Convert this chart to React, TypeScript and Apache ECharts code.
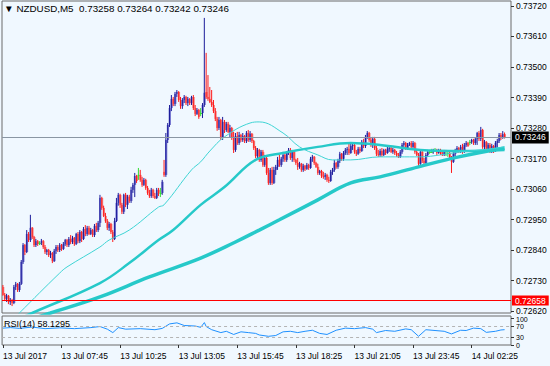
import React, { useEffect, useRef } from 'react';
import * as echarts from 'echarts';

// ---- data (prices in points, 1 point = 0.00001) ----
const symbolName = 'NZDUSD,M5';

const opens = [
72707,72678,72664,72675,72653,72660,72649,72707,72718,72696,72718,72797,72858,72833,72898,72876,72920,72887,72858,72872,
72866,72866,72872,72851,72833,72840,72822,72829,72800,72837,72851,72840,72858,72844,72862,72876,72858,72880,72869,72884,
72862,72898,72872,72905,72880,72916,72898,72920,72898,72912,72894,72927,72912,72938,73028,72992,72963,72945,72920,72934,
72905,72880,72945,73010,73039,73003,72978,73039,73003,73032,73017,73057,73075,73107,73111,73111,73093,73075,73093,73064,
73046,73035,73057,73035,73028,73057,73046,73046,73122,73111,73237,73291,73352,73385,73367,73403,73410,73381,73359,73381,
73392,73370,73385,73370,73392,73352,73331,73345,73334,73334,73363,73410,73392,73385,73374,73363,73341,73313,73280,73309,
73244,73302,73273,73295,73266,73280,73244,73201,73251,73226,73255,73237,73251,73233,73262,73237,73259,73233,73208,73179,
73201,73165,73194,73147,73172,73118,73082,73129,73082,73129,73140,73165,73147,73169,73183,73165,73190,73201,73172,73194,
73165,73154,73140,73151,73129,73144,73133,73147,73136,73169,73176,73154,73140,73118,73125,73107,73104,73111,73093,73089,
73122,73129,73154,73140,73162,73187,73169,73190,73201,73205,73190,73215,73219,73194,73187,73205,73197,73230,73215,73244,
73262,73237,73219,73241,73208,73187,73183,73197,73183,73201,73190,73205,73208,73194,73201,73190,73183,73176,73194,73219,
73226,73208,73219,73226,73212,73226,73194,73183,73151,73194,73162,73154,73183,73194,73194,73194,73201,73201,73190,73201,
73187,73183,73197,73190,73190,73172,73158,73187,73197,73208,73197,73212,73194,73219,73226,73230,73230,73237,73226,73241,
73262,73241,73273,73212,73230,73201,73219,73197,73215,73201,73226,73233,73255,73244,73258];

const highs = [
72714,72685,72682,72678,72667,72664,72714,72725,72721,72725,72804,72865,72862,72912,72905,72967,72923,72891,72880,72876,
72872,72880,72876,72858,72844,72844,72837,72833,72844,72858,72858,72865,72862,72869,72880,72880,72887,72894,72891,72887,
72902,72905,72912,72909,72923,72930,72927,72927,72920,72916,72934,72938,72945,73039,73032,73000,72974,72952,72941,72938,
72912,72956,73028,73046,73043,73010,73043,73046,73039,73039,73068,73082,73118,73111,73136,73129,73104,73100,73097,73071,
73057,73064,73061,73046,73064,73064,73064,73093,73165,73262,73298,73363,73399,73392,73410,73417,73413,73392,73388,73399,
73396,73392,73388,73396,73399,73363,73352,73349,73352,73370,73677,73551,73471,73428,73417,73381,73352,73320,73320,73313,
73320,73309,73302,73302,73291,73284,73266,73262,73266,73266,73259,73262,73255,73269,73273,73269,73262,73237,73215,73208,
73205,73201,73201,73183,73176,73136,73136,73140,73140,73147,73176,73183,73176,73194,73190,73197,73208,73208,73201,73197,
73169,73172,73158,73154,73151,73147,73154,73151,73176,73183,73179,73158,73151,73129,73129,73122,73118,73115,73104,73129,
73136,73165,73158,73169,73194,73190,73197,73208,73212,73226,73223,73226,73223,73201,73212,73212,73237,73241,73255,73269,
73266,73244,73248,73248,73215,73201,73205,73208,73205,73205,73212,73215,73212,73208,73205,73197,73190,73201,73226,73233,
73230,73226,73230,73233,73233,73230,73201,73190,73201,73197,73172,73190,73201,73201,73205,73205,73208,73205,73205,73205,
73197,73201,73201,73197,73194,73179,73194,73205,73215,73212,73219,73223,73226,73233,73230,73237,73241,73241,73244,73266,
73269,73284,73277,73237,73233,73226,73226,73223,73219,73233,73241,73262,73262,73269,73264];

const lows = [
72675,72656,72653,72645,72642,72638,72645,72696,72689,72689,72714,72790,72822,72829,72869,72869,72880,72851,72851,72855,
72858,72858,72844,72826,72822,72815,72811,72793,72797,72826,72833,72833,72837,72840,72855,72851,72851,72862,72862,72855,
72858,72865,72865,72869,72876,72890,72891,72894,72894,72887,72887,72905,72905,72923,72985,72959,72938,72912,72909,72898,
72869,72876,72941,73000,72992,72970,72970,72995,72988,73010,73010,73046,73031,73082,73093,73086,73068,73071,73057,73039,
73028,73028,73028,73024,73024,73035,73031,73039,73104,73104,73226,73284,73341,73359,73359,73392,73374,73349,73349,73370,
73363,73359,73363,73363,73345,73323,73327,73313,73323,73316,73356,73385,73378,73370,73356,73334,73305,73270,73273,73237,
73237,73262,73266,73262,73244,73237,73190,73194,73219,73219,73230,73230,73226,73226,73230,73230,73226,73201,73172,73165,
73158,73158,73140,73140,73111,73075,73075,73075,73078,73111,73129,73140,73140,73158,73158,73158,73183,73165,73158,73158,
73147,73129,73133,73122,73122,73125,73129,73129,73133,73158,73147,73136,73111,73111,73100,73097,73093,73086,73082,73086,
73111,73122,73133,73133,73154,73162,73162,73183,73183,73183,73187,73201,73187,73179,73183,73190,73194,73208,73208,73241,
73230,73212,73208,73201,73179,73176,73176,73176,73179,73183,73187,73194,73190,73187,73183,73176,73172,73172,73187,73212,
73201,73201,73215,73205,73208,73187,73179,73140,73147,73154,73147,73151,73176,73187,73190,73187,73194,73183,73187,73183,
73179,73179,73179,73176,73165,73118,73154,73179,73190,73190,73190,73187,73190,73212,73212,73219,73223,73219,73219,73219,
73233,73233,73205,73201,73194,73194,73190,73190,73190,73194,73205,73226,73237,73241,73242];

const closes = [
72678,72664,72675,72653,72660,72649,72707,72718,72696,72718,72797,72858,72833,72898,72876,72920,72887,72858,72872,72862,
72866,72872,72851,72833,72840,72822,72829,72800,72837,72851,72840,72858,72844,72862,72876,72858,72880,72869,72884,72862,
72898,72872,72905,72880,72916,72898,72920,72898,72912,72894,72927,72912,72938,73028,72992,72963,72945,72920,72934,72905,
72880,72945,73010,73039,73003,72978,73039,73003,73032,73017,73057,73075,73107,73089,73111,73093,73075,73093,73064,73046,
73035,73057,73035,73028,73057,73046,73046,73086,73111,73237,73291,73352,73385,73367,73403,73410,73381,73359,73381,73392,
73370,73385,73370,73392,73352,73331,73345,73320,73334,73363,73407,73392,73385,73374,73363,73341,73313,73280,73309,73244,
73302,73273,73295,73266,73280,73244,73201,73251,73226,73255,73237,73251,73233,73262,73237,73259,73233,73208,73179,73201,
73165,73194,73147,73172,73118,73082,73129,73082,73129,73140,73165,73147,73169,73183,73165,73190,73201,73172,73194,73165,
73154,73140,73151,73129,73144,73133,73147,73136,73169,73176,73154,73140,73118,73125,73107,73104,73111,73093,73089,73122,
73129,73154,73140,73162,73187,73169,73190,73201,73205,73190,73215,73219,73194,73187,73205,73197,73230,73215,73244,73262,
73237,73219,73241,73208,73187,73183,73197,73183,73201,73190,73205,73208,73194,73201,73190,73183,73176,73194,73219,73226,
73208,73219,73226,73212,73226,73194,73183,73151,73194,73162,73154,73183,73194,73194,73194,73201,73201,73190,73201,73187,
73183,73197,73197,73190,73172,73158,73187,73197,73208,73197,73212,73194,73219,73226,73215,73230,73237,73226,73241,73262,
73241,73273,73212,73230,73201,73219,73197,73215,73201,73226,73233,73255,73244,73258,73246];

// moving averages, read at selected bars
const fastMaIdx = [0, 9, 31, 35, 53, 58, 69, 85, 88, 103, 108, 113, 121, 135, 140, 153, 162, 172, 180, 190, 206, 228, 239, 250, 261, 274];
const fastMa = [72552, 72613, 72757, 72779, 72851, 72876, 72912, 72995, 73003, 73129, 73158, 73197, 73248, 73298, 73302, 73262, 73212, 73183, 73165, 73165, 73176, 73176, 73183, 73194, 73201, 73212];
const midMaIdx = [0, 16, 53, 69, 85, 93, 108, 121, 138, 153, 172, 190, 206, 228, 250, 274];
const midMa = [72566, 72613, 72721, 72793, 72876, 72912, 73003, 73067, 73165, 73190, 73212, 73226, 73219, 73201, 73197, 73201];
const slowMaIdx = [0, 26, 53, 80, 108, 127, 140, 151, 172, 190, 206, 227, 249, 274];
const slowMa = [72559, 72613, 72671, 72743, 72811, 72869, 72912, 72949, 73021, 73082, 73104, 73140, 73176, 73208];

// RSI(14), read at selected bars
const rsiIdx = [0,4,9,16,23,31,39,48,53,57,60,63,67,75,83,87,91,95,99,105,108,110,111,114,119,122,126,130,134,138,140,145,149,153,157,161,165,169,173,177,182,187,192,198,202,204,209,214,220,223,227,231,236,241,245,250,253,257,261,264,269,272,274];
const rsiVal = [64,66,63,68,62,65,62,66,70,60,47,66,60,62,58,63,80,84,74,72,67,85,70,58,47,52,40,50,47,44,38,33,36,50,52,47,52,56,44,40,56,64,62,66,60,47,55,52,61,58,33,58,55,52,42,56,55,64,62,48,52,57,58.1295];
const rsiLast = '58.1295';
const rsiLevels = [30, 70];
const rsiInnerTicks = [30, 70];
const rsiOuterTicks = [0, 100];

const redLevel = 72658;
const yTicks = [72620, 72730, 72840, 72950, 73060, 73170, 73280, 73390, 73500, 73610, 73720];
const xTickIdx = [0, 32, 64, 96, 128, 160, 192, 224, 256];
const xTickLabels = ['13 Jul 2017', '13 Jul 07:45', '13 Jul 10:25', '13 Jul 13:05', '13 Jul 15:45', '13 Jul 18:25', '13 Jul 21:05', '13 Jul 23:45', '14 Jul 02:25'];

const SLOTS = 278;
const FONT = 'Liberation Sans, Arial, sans-serif';

const p = (v: number) => v / 1e5;
const fmt = (v: number) => p(v).toFixed(5);

export default function App() {
  const ref = useRef<HTMLDivElement>(null);
  useEffect(() => {
    const chart = echarts.init(ref.current!, null, { renderer: 'svg' });
    const last = closes.length - 1;
    const cats = Array.from({ length: SLOTS }, (_, i) => String(i));
    const candleData = opens.map((o, i) => [i, p(o), p(closes[i]), p(lows[i]), p(highs[i])]);
    const pairs = (idx: number[], vals: number[], conv = true) => idx.map((k, j) => [k, conv ? p(vals[j]) : vals[j]]);
    const tickSet = new Set(xTickIdx);
    const labelMap = new Map(xTickIdx.map((k, j) => [k, xTickLabels[j]]));
    const rsiAxisBase = {
      type: 'value', gridIndex: 1, position: 'right', min: 0, max: 110,
      axisLine: { show: false },
      splitLine: { show: false },
    };

    const option: any = {
      animation: false,
      backgroundColor: '#F0F8FF',
      textStyle: { fontFamily: FONT },
      title: [
        {
          text: `▼ ${symbolName}  ${fmt(opens[last])} ${fmt(highs[last])} ${fmt(lows[last])} ${fmt(closes[last])}`,
          left: 4, top: 3, padding: 0,
          textStyle: { fontSize: 9.8, fontWeight: 'normal', color: '#000', fontFamily: FONT },
        },
        {
          text: `RSI(14) ${rsiLast}`,
          left: 4, top: 319, padding: 0,
          textStyle: { fontSize: 9, fontWeight: 'normal', color: '#000', fontFamily: FONT },
        },
      ],
      grid: [
        { left: 2, top: 1, width: 509, height: 312, show: true, borderColor: '#6a6a6a', borderWidth: 1, backgroundColor: 'transparent' },
        { left: 2, top: 316, width: 509, height: 29, show: true, borderColor: '#6a6a6a', borderWidth: 1, backgroundColor: 'transparent' },
      ],
      xAxis: [
        { type: 'category', gridIndex: 0, data: cats, boundaryGap: true, show: false },
        {
          type: 'category', gridIndex: 1, data: cats, boundaryGap: true,
          axisLine: { show: false },
          axisTick: { show: true, alignWithLabel: true, length: 3, interval: (i: number) => tickSet.has(i), lineStyle: { color: '#333' } },
          axisLabel: {
            show: true, interval: (i: number) => tickSet.has(i),
            formatter: (_v: string, i: number) => labelMap.get(i) || '',
            align: 'left', margin: 6, fontSize: 8.5, color: '#000', fontFamily: FONT,
          },
          splitLine: { show: false },
        },
      ],
      yAxis: [
        {
          type: 'value', gridIndex: 0, position: 'right', min: 0.72613, max: 0.73738, scale: true,
          axisLine: { show: false },
          axisTick: { show: true, length: 3, lineStyle: { color: '#333' }, customValues: yTicks.map(p) },
          axisLabel: { show: true, margin: 5, fontSize: 8.5, color: '#000', fontFamily: FONT, customValues: yTicks.map(p), formatter: (v: number) => v.toFixed(5) },
          splitLine: { show: false },
        },
        {
          ...rsiAxisBase,
          axisTick: { show: true, length: 3, lineStyle: { color: '#333' }, customValues: rsiInnerTicks },
          axisLabel: {
            show: true, margin: 5, fontSize: 7, lineHeight: 7, color: '#000', fontFamily: FONT, customValues: rsiInnerTicks,
            formatter: (v: number) => String(v),
          },
        },
        {
          ...rsiAxisBase,
          axisTick: { show: true, length: 3, lineStyle: { color: '#333' }, customValues: rsiOuterTicks },
          axisLabel: {
            show: true, margin: 5, fontSize: 7, lineHeight: 7, color: '#000', fontFamily: FONT, customValues: rsiOuterTicks,
            formatter: (v: number) => (v === 100 ? '{hi|100}' : '{lo|0}'),
            rich: { hi: { padding: [2, 0, 0, 0], fontSize: 7, lineHeight: 7, color: '#000' }, lo: { fontSize: 7, lineHeight: 7, color: '#000' } },
          },
        },
      ],
      series: [
        {
          type: 'custom', xAxisIndex: 0, yAxisIndex: 0, z: 2, clip: true,
          encode: { x: 0, y: [1, 2, 3, 4] },
          data: candleData,
          renderItem: (_params: any, api: any) => {
            const idx = api.value(0);
            const o = api.value(1), c = api.value(2), l = api.value(3), h = api.value(4);
            const pO = api.coord([idx, o]);
            const pC = api.coord([idx, c]);
            const pL = api.coord([idx, l]);
            const pH = api.coord([idx, h]);
            const x = pO[0];
            const doji = o === c;
            const up = c > o;
            const wick = doji ? '#33dd33' : up ? '#1c1c9a' : '#ff1a1a';
            const body = doji ? '#33dd33' : up ? '#7373cf' : '#f58080';
            const top = Math.min(pO[1], pC[1]);
            const bh = Math.max(Math.abs(pO[1] - pC[1]), 1);
            return {
              type: 'group',
              children: [
                { type: 'rect', shape: { x: x - 0.9, y: top, width: 2.3, height: bh }, style: { fill: body } },
                { type: 'line', shape: { x1: x, y1: pH[1], x2: x, y2: pL[1] }, style: { stroke: wick, lineWidth: 1 } },
              ],
            };
          },
        },
        {
          type: 'line', xAxisIndex: 0, yAxisIndex: 0, z: 3, smooth: 0.4, symbol: 'none', clip: true,
          data: pairs(slowMaIdx, slowMa), lineStyle: { color: '#26c9c9', width: 3.5 },
        },
        {
          type: 'line', xAxisIndex: 0, yAxisIndex: 0, z: 3, smooth: 0.4, symbol: 'none', clip: true,
          data: pairs(midMaIdx, midMa), lineStyle: { color: '#26c9c9', width: 2.5 },
        },
        {
          type: 'line', xAxisIndex: 0, yAxisIndex: 0, z: 3, smooth: 0.4, symbol: 'none', clip: true,
          data: pairs(fastMaIdx, fastMa), lineStyle: { color: '#3fd4d4', width: 1 },
          markLine: {
            silent: true, symbol: ['none', 'none'], precision: 5,
            data: [
              {
                yAxis: p(closes[last]), lineStyle: { color: '#8a96a3', width: 1, type: 'solid' },
                label: { show: true, position: 'end', distance: 1, formatter: (q: any) => Number(q.value).toFixed(5), backgroundColor: '#000', color: '#fff', padding: [2, 3, 1, 3], fontSize: 8.5, fontFamily: FONT },
              },
              {
                yAxis: p(redLevel), lineStyle: { color: '#ff0000', width: 1, type: 'solid' },
                label: { show: true, position: 'end', distance: 1, formatter: (q: any) => Number(q.value).toFixed(5), backgroundColor: '#ff0000', color: '#fff', padding: [1, 3, 0, 3], fontSize: 8.5, fontFamily: FONT },
              },
            ],
          },
        },
        {
          type: 'line', xAxisIndex: 1, yAxisIndex: 1, z: 3, symbol: 'none',
          data: pairs(rsiIdx, rsiVal, false), lineStyle: { color: '#1e90ff', width: 1 },
          markLine: {
            silent: true, symbol: ['none', 'none'],
            data: rsiLevels.map((v) => ({ yAxis: v })),
            lineStyle: { color: '#b4b4b4', width: 1, type: [3, 3] },
            label: { show: false },
          },
        },
      ],
    };
    chart.setOption(option);
    return () => chart.dispose();
  }, []);
  return <div ref={ref} style={{ position: 'fixed', left: 0, top: 0, width: 550, height: 366, background: '#F0F8FF' }} />;
}
